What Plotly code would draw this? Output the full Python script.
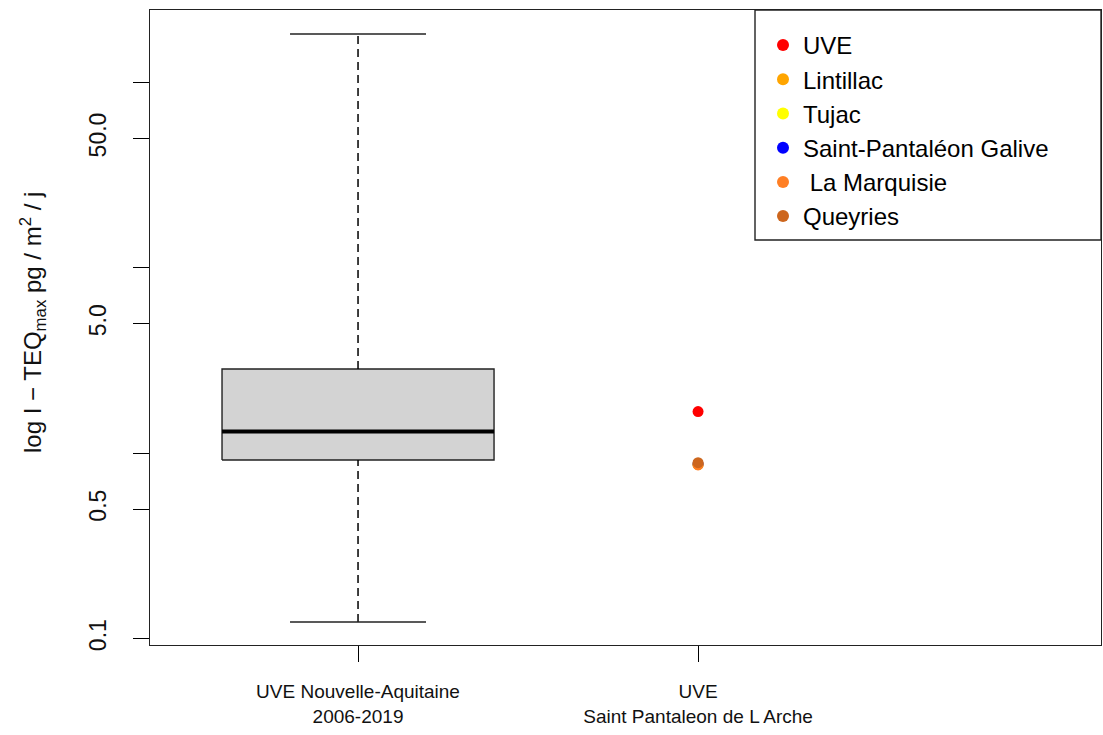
import plotly.graph_objects as go

# ---- data ----
categories = ["UVE Nouvelle-Aquitaine<br>2006-2019", "UVE<br>Saint Pantaleon de L Arche"]
cat_pos = [1, 2]

# box statistics for the regional distribution (pg/m2/j)
box_lower = 0.123
box_q1 = 0.92
box_median = 1.31
box_q3 = 2.85
box_upper = 183.0

site_names = ["UVE", "Lintillac", "Tujac", "Saint-Pantal\u00e9on Galive", "\u00a0La Marquisie", "Queyries"]
site_values = [1.68, 0.87, 0.87, 0.875, 0.865, 0.89]
site_colors = ["#FF0000", "#FFA500", "#FFFF00", "#0000FF", "#FF7F24", "#CD661D"]

y_tickvals = [0.1, 0.5, 1, 5, 10, 50, 100]
y_ticktext = ["0.1", "0.5", "", "5.0", "", "50.0", ""]

fig = go.Figure()

bx = cat_pos[0]
half_box = 0.4
half_cap = 0.2

# box body
fig.add_trace(go.Scatter(
    x=[bx - half_box, bx + half_box, bx + half_box, bx - half_box, bx - half_box],
    y=[box_q1, box_q1, box_q3, box_q3, box_q1],
    mode="lines", fill="toself", fillcolor="#D3D3D3",
    line=dict(color="#222222", width=1.4), showlegend=False, hoverinfo="skip"))
# median
fig.add_trace(go.Scatter(x=[bx - half_box, bx + half_box], y=[box_median, box_median],
                         mode="lines", line=dict(color="black", width=4),
                         showlegend=False, hoverinfo="skip"))
# whiskers (dashed)
fig.add_trace(go.Scatter(x=[bx, bx], y=[box_q3, box_upper], mode="lines",
                         line=dict(color="black", width=1.5, dash="8px,5px"),
                         showlegend=False, hoverinfo="skip"))
fig.add_trace(go.Scatter(x=[bx, bx], y=[box_lower, box_q1], mode="lines",
                         line=dict(color="black", width=1.5, dash="8px,5px"),
                         showlegend=False, hoverinfo="skip"))
# caps
for v in (box_upper, box_lower):
    fig.add_trace(go.Scatter(x=[bx - half_cap, bx + half_cap], y=[v, v], mode="lines",
                             line=dict(color="#222222", width=1.4),
                             showlegend=False, hoverinfo="skip"))

# site points
for name, val, col in zip(site_names, site_values, site_colors):
    fig.add_trace(go.Scatter(x=[cat_pos[1]], y=[val], mode="markers", name=name,
                             marker=dict(color=col, size=11, line=dict(width=0))))

L, R, T, B = 150, 2, 10, 90
PW, PH = 1103 - L - R, 735 - T - B

def px_x(p):
    return (p - L) / PW

def px_y(p):
    return (735 - B - p) / PH

fig.update_layout(
    width=1103, height=735,
    margin=dict(l=L, r=R, t=T, b=B, pad=0),
    paper_bgcolor="white", plot_bgcolor="white",
    font=dict(family="Liberation Sans, Arial, sans-serif", color="black"),
    showlegend=True,
    legend=dict(x=px_x(763), y=px_y(23), xanchor="left", yanchor="top",
                bgcolor="rgba(0,0,0,0)", borderwidth=0,
                font=dict(size=24, family="Liberation Sans, Arial, sans-serif", color="black"),
                itemsizing="constant", tracegroupgap=0),
    xaxis=dict(range=[0.3882, 3.185], tickvals=cat_pos, ticktext=categories,
               ticks="outside", ticklen=16, tickcolor="black", tickwidth=1.4,
               ticklabelstandoff=13,
               tickfont=dict(size=19, family="Liberation Sans, Arial", color="#111111"),
               showgrid=False, zeroline=False, showline=True, linecolor="#222222", linewidth=1.4,
               mirror=True),
    yaxis=dict(type="log", range=[-1.0345, 2.392], tickvals=y_tickvals, ticktext=y_ticktext,
               ticks="outside", ticklen=16, tickcolor="black", tickwidth=1.4, tickangle=-90,
               ticklabelstandoff=18,
               tickfont=dict(size=23, color="#111111"),
               showgrid=False, zeroline=False, showline=True, linecolor="#222222", linewidth=1.4,
               mirror=True),
    shapes=[dict(type="rect", xref="paper", yref="paper",
                 x0=px_x(755), x1=1.0, y0=px_y(240), y1=1.0,
                 line=dict(color="#222222", width=1.4), fillcolor="rgba(0,0,0,0)")],
    annotations=[dict(text="log I \u2212 TEQ<sub>max</sub> pg / m<sup>2</sup> / j",
                      xref="paper", yref="paper", x=px_x(33), y=px_y(323),
                      xanchor="center", yanchor="middle", textangle=-90, showarrow=False,
                      font=dict(size=24, color="#111111"))],
)

fig.write_html("out.html", config={"displayModeBar": False},
               post_script="document.body.style.margin='0';")
